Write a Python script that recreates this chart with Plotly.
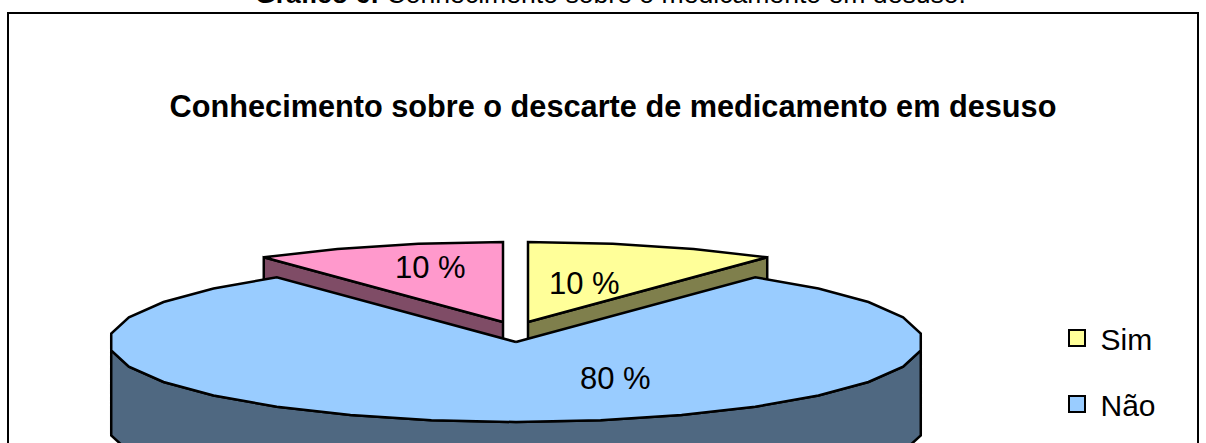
import numpy as np
import plotly.graph_objects as go

categories = ["Sim", "Não", "Outro"]
percent_values = [10, 80, 10]
slice_colors = ["#FFFF99", "#99CCFF", "#FF99CC"]
wall_colors = ["#7F7F4C", "#4F6881", "#7F4C66"]
chart_title = "Conhecimento sobre o descarte de medicamento em desuso"
caption_bold = "Gráfico 6:"
caption_text = " Conhecimento sobre o medicamento em desuso."

W, H = 1206, 443
RX, RY, DEPTH = 407, 80, 85
FONT = "Liberation Sans"
LINE = dict(color="black", width=2.5)
CENTERS = {"Sim": (528, 322), "Não": (516, 342), "Outro": (503, 322)}
LABEL_FRAC = {"Sim": 0.45, "Não": 0.45, "Outro": 0.58}
LABEL_NUDGE = {"Sim": (0, -4), "Não": (99, 0), "Outro": (0, -10)}

shares = np.array(percent_values) / sum(percent_values) * 360
ends = np.cumsum(shares)
starts = ends - shares
span = {c: (s, e) for c, s, e in zip(categories, starts, ends)}


def rim(cat, a0=None, a1=None):
    s, e = span[cat]
    a0 = s if a0 is None else a0
    a1 = e if a1 is None else a1
    k0 = np.ceil(a0 / 12 + 1e-6)
    k1 = np.floor(a1 / 12 - 1e-6)
    inner = [12 * k for k in np.arange(k0, k1 + 1)]
    ang = np.radians([a0] + inner + [a1])
    cx, cy = CENTERS[cat]
    return cx + RX * np.sin(ang), cy - RY * np.cos(ang)


def top_polygon(cat):
    x, y = rim(cat)
    cx, cy = CENTERS[cat]
    return np.r_[cx, x, cx], np.r_[cy, y, cy]


def edge_wall(cat, angle):
    cx, cy = CENTERS[cat]
    a = np.radians(angle)
    ex, ey = cx + RX * np.sin(a), cy - RY * np.cos(a)
    return [cx, ex, ex, cx, cx], [cy, ey, ey + DEPTH, cy + DEPTH, cy]


fig = go.Figure()


def poly(x, y, fill, name):
    fig.add_trace(go.Scatter(x=x, y=y, mode="lines", fill="toself", fillcolor=fill,
                             line=LINE, name=name, showlegend=False, hoverinfo="name"))


# Back slices: radial wall, then top
x, y = edge_wall("Outro", span["Outro"][0])
poly(x, y, wall_colors[2], "Outro")
poly(*top_polygon("Outro"), slice_colors[2], "Outro")
x, y = edge_wall("Sim", span["Sim"][1])
poly(x, y, wall_colors[0], "Sim")
poly(*top_polygon("Sim"), slice_colors[0], "Sim")

# Front slice: rim wall, then top
wx, wy = rim("Não", 96, 264)
poly(np.r_[wx, wx[::-1], wx[0]], np.r_[wy, wy[::-1] + DEPTH, wy[0]], wall_colors[1], "Não")
poly(*top_polygon("Não"), slice_colors[1], "Não")

# Legend entries
for cat, col in list(zip(categories, slice_colors))[:2]:
    fig.add_trace(go.Scatter(x=[None], y=[None], mode="markers", name=cat, legendgroup=cat,
                             marker=dict(symbol="square", size=21, color=col,
                                         line=dict(color="black", width=2))))

# Value labels placed from each slice's mid angle
for cat, val, s, e in zip(categories, percent_values, starts, ends):
    mid = np.radians((s + e) / 2)
    cx, cy = CENTERS[cat]
    f = LABEL_FRAC[cat]
    nx, ny = LABEL_NUDGE[cat]
    fig.add_annotation(x=cx + RX * f * np.sin(mid) + nx, y=cy - RY * f * np.cos(mid) + ny,
                       text=f"{val} %", showarrow=False,
                       font=dict(family=FONT, size=31, color="black"))

fig.add_annotation(x=610, y=11, yanchor="bottom", showarrow=False, xanchor="center",
                   text=f"<b>{caption_bold}</b>{caption_text}",
                   font=dict(family=FONT, size=26.6, color="black"))

# Chart frame
fig.add_shape(type="rect", x0=8, x1=1198, y0=13, y1=520,
              line=dict(color="black", width=2), layer="below")

fig.update_layout(
    width=W, height=H, margin=dict(l=0, r=0, t=0, b=0),
    paper_bgcolor="white", plot_bgcolor="white",
    title=dict(text=f"<b>{chart_title}</b>", x=613 / W, xanchor="center",
               y=1 - 106 / H, yanchor="middle",
               font=dict(family=FONT, size=30.7, color="black")),
    xaxis=dict(range=[0, W], visible=False, fixedrange=True),
    yaxis=dict(range=[H, 0], visible=False, fixedrange=True),
    legend=dict(x=1053.5 / W, xanchor="left", y=1 - 312 / H, yanchor="top",
                font=dict(family=FONT, size=30, color="black"),
                bgcolor="rgba(0,0,0,0)", tracegroupgap=24, itemwidth=37),
)
fig.write_html("out.html", config=dict(displayModeBar=False),
               post_script="document.body.style.margin='0';document.body.style.overflow='hidden';")
